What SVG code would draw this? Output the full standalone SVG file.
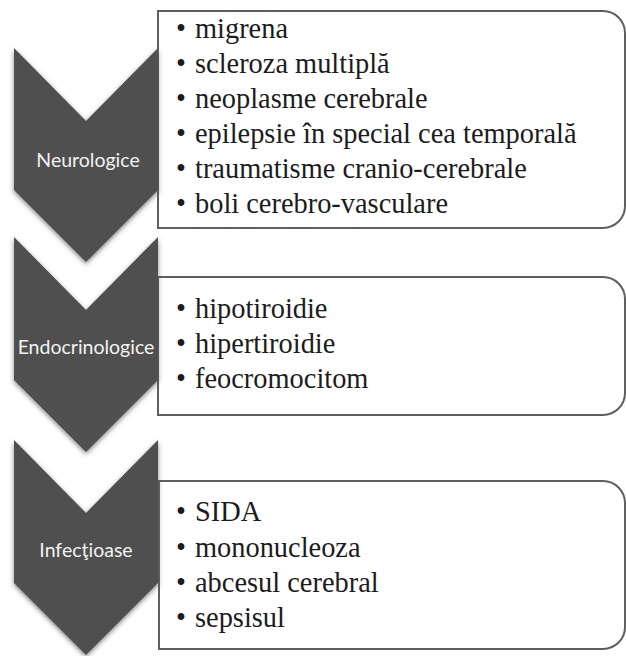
<svg xmlns="http://www.w3.org/2000/svg" width="626" height="656" viewBox="0 0 626 656">
  <defs>
    <filter id="soft" x="-20%" y="-20%" width="140%" height="140%">
      <feGaussianBlur in="SourceAlpha" stdDeviation="2.5"/>
      <feOffset dy="2" result="b"/>
      <feFlood flood-color="#4f4f50" flood-opacity="0.7"/>
      <feComposite in2="b" operator="in" result="s"/>
      <feMerge><feMergeNode in="s"/><feMergeNode in="SourceGraphic"/></feMerge>
    </filter>
  </defs>
  <style>
    .chev { fill: #4f4f50; }
    .box { fill: #ffffff; stroke: #5f5f5f; stroke-width: 2; }
    .lbl { font-family: Lato, sans-serif; font-size: 19.5px; fill: #f2f2f2; text-anchor: middle; }
    .item { font-family: "Liberation Serif", serif; font-size: 28.4px; fill: #1c1c1c; }
  </style>
  <rect width="626" height="656" fill="#ffffff"/>

  <g id="neurologice">
    <path class="box" d="M158,11 H603 A22,22 0 0 1 625,33 V206 A22,22 0 0 1 603,228 H158 Z"/>
    <path class="chev" filter="url(#soft)" d="M14,48 L86,121 L158,48 L158,190 L86,262 L14,190 Z"/>
    <text class="lbl" x="88" y="167">Neurologice</text>
    <text class="item" x="176" y="38">•</text>
    <text class="item" x="176" y="73">•</text>
    <text class="item" x="176" y="108">•</text>
    <text class="item" x="176" y="143">•</text>
    <text class="item" x="176" y="178">•</text>
    <text class="item" x="176" y="213">•</text>
    <text class="item" x="195" y="38">migrena</text>
    <text class="item" x="195" y="73">scleroza multiplă</text>
    <text class="item" x="195" y="108">neoplasme cerebrale</text>
    <text class="item" x="195" y="143">epilepsie în special cea temporală</text>
    <text class="item" x="195" y="178">traumatisme cranio-cerebrale</text>
    <text class="item" x="195" y="213">boli cerebro-vasculare</text>
  </g>

  <g id="endocrinologice">
    <path class="box" d="M158,277 H603 A22,22 0 0 1 625,299 V393 A22,22 0 0 1 603,415 H158 Z"/>
    <path class="chev" filter="url(#soft)" d="M14,237 L86,310 L158,237 L158,380 L86,452 L14,380 Z"/>
    <text class="lbl" x="86" y="354">Endocrinologice</text>
    <text class="item" x="176" y="318">•</text>
    <text class="item" x="176" y="353">•</text>
    <text class="item" x="176" y="388">•</text>
    <text class="item" x="195" y="318">hipotiroidie</text>
    <text class="item" x="195" y="353">hipertiroidie</text>
    <text class="item" x="195" y="388">feocromocitom</text>
  </g>

  <g id="infectioase">
    <path class="box" d="M159,481 H603 A22,22 0 0 1 625,503 V627 A22,22 0 0 1 603,649 H159 Z"/>
    <path class="chev" filter="url(#soft)" d="M14,440 L86,513 L158,440 L158,583 L86,655 L14,583 Z"/>
    <text class="lbl" x="86" y="557">Infecţioase</text>
    <text class="item" x="176" y="521">•</text>
    <text class="item" x="176" y="557">•</text>
    <text class="item" x="176" y="592">•</text>
    <text class="item" x="176" y="627">•</text>
    <text class="item" x="195" y="521">SIDA</text>
    <text class="item" x="195" y="557">mononucleoza</text>
    <text class="item" x="195" y="592">abcesul cerebral</text>
    <text class="item" x="195" y="627">sepsisul</text>
  </g>
</svg>
